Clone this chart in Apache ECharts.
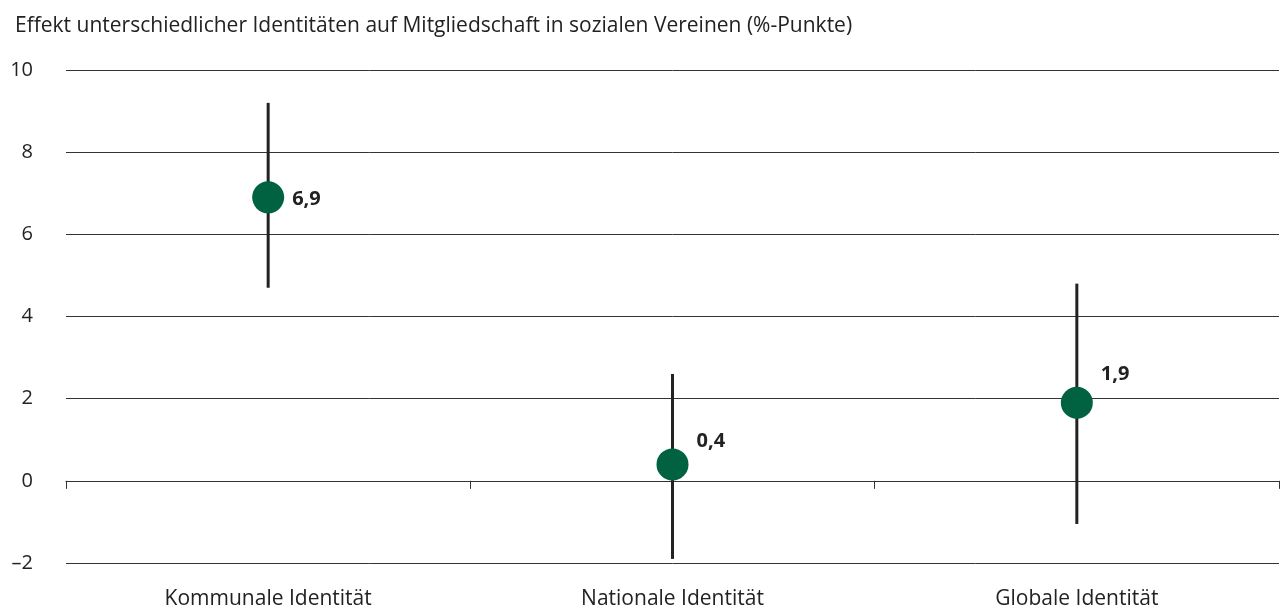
<!DOCTYPE html>
<html>
<head>
<meta charset="utf-8">
<script src="https://cdn.jsdelivr.net/npm/echarts@6/dist/echarts.min.js"></script>
<style>
  html, body { margin: 0; padding: 0; background: #fff; }
  #chart { width: 1285px; height: 609px; }
</style>
</head>
<body>
<div id="chart"></div>
<script>
// Daten
const categories = ['Kommunale Identität', 'Nationale Identität', 'Globale Identität'];
const effects = [6.9, 0.4, 1.9];
const lower = [4.7, -1.9, -1.05];
const upper = [9.2, 2.6, 4.8];

const FONT = '"Open Sans", "Noto Sans", sans-serif';
const labelOffsets = [[0, 2], [0, -23], [0, -28]];

const fmt = v => v.toFixed(1).replace('.', ',');

const chart = echarts.init(document.getElementById('chart'));

const option = {
  animation: false,
  title: {
    text: 'Effekt unterschiedlicher Identitäten auf Mitgliedschaft in sozialen Vereinen (%-Punkte)',
    left: 10,
    top: 11,
    textStyle: { fontFamily: FONT, fontSize: 21, fontWeight: 'normal', color: '#222' }
  },
  grid: { left: 66, right: 6, top: 70, bottom: 46, outerBoundsMode: 'none' },
  xAxis: [{
    type: 'category',
    data: categories,
    axisLine: { onZero: true, lineStyle: { color: '#333', width: 1 } },
    axisTick: { show: true, length: 8, lineStyle: { color: '#333' } },
    axisLabel: { show: false },
    splitLine: { show: false }
  }, {
    type: 'category',
    data: categories,
    position: 'bottom',
    axisLine: { show: false, onZero: false },
    axisTick: { show: false },
    axisLabel: { margin: 26, fontFamily: FONT, fontSize: 21, color: '#222' }
  }],
  yAxis: {
    type: 'value',
    min: -2,
    max: 10,
    interval: 2,
    axisLine: { show: false },
    axisTick: { show: false },
    axisLabel: {
      margin: 33,
      fontFamily: FONT,
      fontSize: 20,
      color: '#222',
      formatter: v => (v < 0 ? '–' + Math.abs(v) : String(v))
    },
    splitLine: { lineStyle: { color: '#333', width: 1 } }
  },
  series: [{
    type: 'custom',
    xAxisIndex: 0,
    data: categories.map((c, i) => [i, lower[i], upper[i]]),
    renderItem: function (params, api) {
      const lo = api.coord([api.value(0), api.value(1)]);
      const hi = api.coord([api.value(0), api.value(2)]);
      return {
        type: 'line',
        shape: { x1: lo[0], y1: lo[1], x2: hi[0], y2: hi[1] },
        style: { stroke: '#222', lineWidth: 3 }
      };
    },
    z: 2
  }, {
    type: 'scatter',
    xAxisIndex: 0,
    symbol: 'circle',
    symbolSize: 32,
    itemStyle: { color: '#006241', opacity: 1 },
    data: effects.map((v, i) => ({
      value: [i, v],
      label: { offset: labelOffsets[i] }
    })),
    label: {
      show: true,
      position: 'right',
      distance: 8,
      fontFamily: FONT,
      fontSize: 20,
      fontWeight: 'bold',
      color: '#222',
      formatter: p => fmt(p.value[1])
    },
    z: 3
  }]
};

chart.setOption(option);
window.addEventListener('resize', function () {
  chart.resize();
});
</script>
</body>
</html>
